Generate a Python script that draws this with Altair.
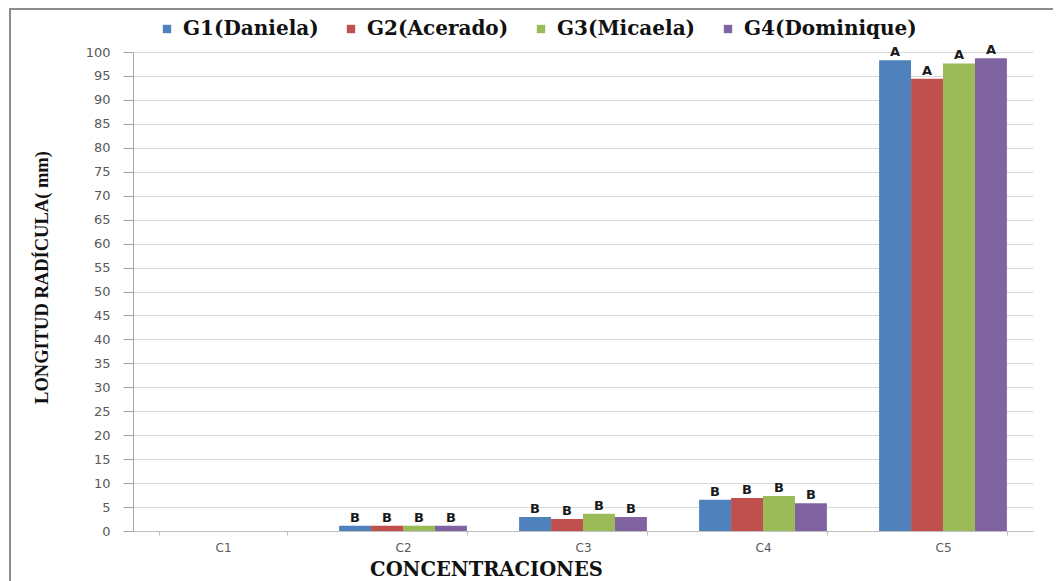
import altair as alt
import pandas as pd

categories = ["C1", "C2", "C3", "C4", "C5"]
groups = ["G1(Daniela)", "G2(Acerado)", "G3(Micaela)", "G4(Dominique)"]
g1_values = [0.0, 1.1, 2.9, 6.5, 98.3]
g2_values = [0.0, 1.1, 2.5, 6.9, 94.4]
g3_values = [0.0, 1.1, 3.6, 7.3, 97.6]
g4_values = [0.0, 1.1, 2.9, 5.8, 98.7]
letters = ["", "B", "B", "B", "A"]
y_ticks = [0, 5, 10, 15, 20, 25, 30, 35, 40, 45, 50, 55, 60, 65, 70, 75, 80, 85, 90, 95, 100]
colors = ["#4F81BD", "#C0504D", "#9BBB59", "#8064A2"]

rows = []
for g, vals in zip(groups, [g1_values, g2_values, g3_values, g4_values]):
    for c, v, l in zip(categories, vals, letters):
        rows.append({"cat": c, "grupo": g, "valor": v, "letra": l})
df = pd.DataFrame(rows)

x_enc = alt.X(
    "cat:N",
    sort=categories,
    scale=alt.Scale(paddingInner=0.29, paddingOuter=0.145),
    axis=alt.Axis(
        title="CONCENTRACIONES",
        titleFont="DejaVu Serif",
        titleFontSize=19.5,
        titleFontWeight="bold",
        titleColor="#111111",
        titleX=353,
        titleY=44,
        titleAlign="center",
        titleBaseline="alphabetic",
        labelFont="DejaVu Sans",
        labelFontSize=12,
        labelColor="#595959",
        labelPadding=7,
        labelAngle=0,
        tickBand="extent",
        ticks=True,
        tickSize=4,
        tickColor="#BFBFBF",
        domainColor="#BFBFBF",
        grid=False,
    ),
)
y_enc = alt.Y(
    "valor:Q",
    scale=alt.Scale(domain=[0, 100], nice=False),
    axis=alt.Axis(
        values=y_ticks,
        labelOverlap=False,
        title="LONGITUD RADÍCULA( mm)",
        titleFont="Liberation Serif",
        titleFontSize=18.5,
        titleFontWeight="bold",
        titleColor="#111111",
        titleAngle=270,
        titleX=-92,
        titleY=225,
        titleAlign="center",
        titleBaseline="middle",
        labelFont="DejaVu Sans",
        labelFontSize=13,
        labelColor="#595959",
        labelPadding=13,
        tickSize=10,
        tickColor="#A6A6A6",
        domainColor="#A6A6A6",
        gridColor="#D9D9D9",
        gridWidth=1,
    ),
)
xoff = alt.XOffset("grupo:N", sort=groups)

bars = alt.Chart(df).mark_bar().encode(
    x=x_enc,
    xOffset=xoff,
    y=y_enc,
    color=alt.Color(
        "grupo:N",
        sort=groups,
        scale=alt.Scale(domain=groups, range=colors),
        legend=alt.Legend(
            title=None,
            orient="none",
            direction="horizontal",
            columns=4,
            legendX=24,
            legendY=-33,
            symbolType="square",
            symbolSize=70,
            symbolStrokeWidth=0,
            labelFont="DejaVu Serif",
            labelFontSize=20,
            labelFontWeight="bold",
            labelColor="#111111",
            labelOffset=6,
            labelLimit=400,
            columnPadding=22,
        ),
    ),
)

text = alt.Chart(df).mark_text(
    font="DejaVu Sans", fontSize=13, fontWeight="bold", color="#1a1a1a",
    baseline="alphabetic", dy=-4,
).encode(
    x=x_enc,
    xOffset=xoff,
    y=y_enc,
    text="letra:N",
)

border = alt.Chart(df).mark_rect(fill=None, stroke="#8C8C8C", strokeWidth=2).encode(
    x=alt.value(-123), x2=alt.value(1100), y=alt.value(-43), y2=alt.value(700)
)

chart = alt.layer(bars, text, border).properties(
    width=900,
    height=479,
    autosize=alt.AutoSizeParams(type="none"),
    padding={"left": 125, "top": 44, "right": 20, "bottom": 50},
    background="white",
).configure_view(stroke=None)

chart.save("out.html", embed_options={"renderer": "svg", "actions": False})
